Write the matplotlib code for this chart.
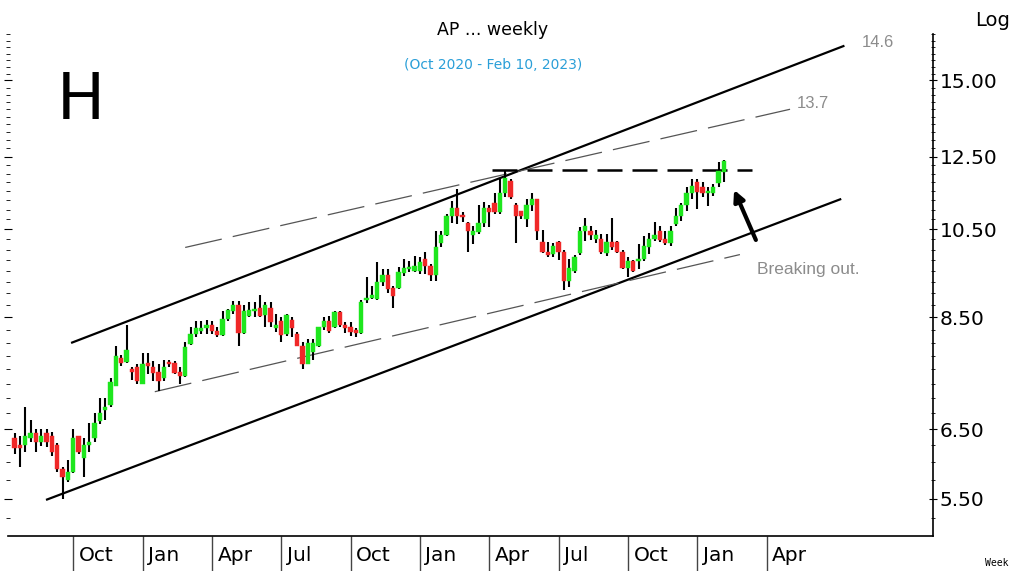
import matplotlib
matplotlib.use("Agg")
import matplotlib.pyplot as plt
import matplotlib.transforms as mtransforms
from matplotlib.ticker import FixedLocator, MultipleLocator, NullFormatter
import numpy as np
import pandas as pd

# weekly bars (dated on the Monday of each week), Jul 2020 .. Feb 2023
first_week = "2020-07-20"
opens = [6.36, 6.25, 6.25, 6.36, 6.44, 6.30, 6.44, 6.40, 6.25, 5.90,
         5.75, 5.86, 6.40, 6.06, 6.25, 6.36, 6.63, 6.81, 6.89, 7.20,
         7.70, 7.64, 7.50, 7.55, 7.25, 7.61, 7.55, 7.46, 7.34, 7.64,
         7.61, 7.46, 7.39, 7.98, 8.16, 8.23, 8.29, 8.35, 8.23, 8.14,
         8.46, 8.62, 8.76, 8.19, 8.52, 8.62, 8.70, 8.54, 8.70, 8.29,
         8.42, 8.16, 8.44, 8.16, 7.93, 7.59, 7.83, 7.94, 8.31, 8.42,
         8.31, 8.60, 8.35, 8.31, 8.25, 8.19, 8.85, 8.91, 8.89, 9.24,
         9.40, 9.11, 9.11, 9.45, 9.54, 9.49, 9.49, 9.77, 9.61, 9.40,
         10.15, 10.35, 10.85, 11.06, 10.85, 10.65, 10.35, 10.43, 10.65, 11.06,
         11.17, 10.93, 11.46, 11.78, 11.14, 10.96, 10.75, 11.14, 11.28, 10.18,
         9.95, 9.89, 10.18, 9.95, 9.27, 9.49, 9.91, 10.45, 10.45, 10.25,
         10.25, 9.91, 10.18, 10.18, 9.95, 9.56, 9.72, 9.72, 9.77, 10.05,
         10.25, 10.45, 10.25, 10.15, 10.63, 10.85, 11.14, 11.46, 11.75, 11.61,
         11.44, 11.44, 11.72, 12.03]
closes = [6.21, 6.21, 6.40, 6.44, 6.30, 6.40, 6.30, 6.15, 5.90, 5.79,
          5.86, 6.37, 6.15, 6.25, 6.30, 6.60, 6.76, 6.86, 7.27, 7.75,
          7.61, 7.85, 7.46, 7.29, 7.59, 7.57, 7.44, 7.29, 7.55, 7.59,
          7.44, 7.39, 7.91, 8.16, 8.29, 8.29, 8.35, 8.23, 8.14, 8.46,
          8.64, 8.76, 8.19, 8.62, 8.66, 8.66, 8.52, 8.76, 8.40, 8.35,
          8.14, 8.54, 8.29, 7.93, 7.59, 8.00, 8.00, 8.31, 8.42, 8.23,
          8.60, 8.35, 8.29, 8.21, 8.19, 8.81, 8.91, 8.96, 9.24, 9.40,
          9.09, 8.94, 9.47, 9.56, 9.56, 9.61, 9.70, 9.61, 9.40, 10.05,
          10.35, 10.85, 11.06, 10.85, 10.80, 10.45, 10.45, 10.65, 11.06, 10.93,
          10.93, 11.46, 11.87, 11.33, 10.83, 10.83, 11.14, 11.28, 10.45, 9.95,
          9.86, 10.08, 9.95, 9.27, 9.56, 9.82, 10.45, 10.58, 10.35, 10.35,
          9.95, 10.18, 10.05, 9.95, 9.56, 9.72, 9.49, 9.75, 10.08, 10.25,
          10.35, 10.23, 10.15, 10.45, 10.85, 11.14, 11.46, 11.64, 11.49, 11.44,
          11.44, 11.61, 12.06, 12.36]
highs = [6.44, 6.40, 6.86, 6.65, 6.50, 6.50, 6.50, 6.46, 6.28, 5.93,
         6.04, 6.50, 6.40, 6.36, 6.60, 6.76, 7.01, 7.01, 7.34, 7.93,
         7.77, 8.35, 7.54, 7.59, 7.81, 7.81, 7.66, 7.59, 7.68, 7.68,
         7.66, 7.55, 8.02, 8.31, 8.42, 8.42, 8.44, 8.42, 8.31, 8.62,
         8.68, 8.83, 8.83, 8.76, 8.81, 8.81, 8.96, 8.81, 8.81, 8.56,
         8.50, 8.56, 8.50, 8.21, 8.02, 8.06, 8.06, 8.31, 8.50, 8.52,
         8.62, 8.62, 8.40, 8.40, 8.29, 8.87, 9.36, 9.16, 9.70, 9.54,
         9.54, 9.16, 9.59, 9.77, 9.72, 9.84, 9.82, 9.95, 9.66, 10.45,
         10.45, 10.88, 11.23, 11.55, 10.93, 10.68, 10.58, 11.14, 11.20, 11.14,
         11.46, 11.87, 12.06, 11.84, 11.17, 10.98, 11.28, 11.44, 11.28, 10.48,
         10.18, 10.15, 10.20, 10.00, 9.77, 9.86, 10.55, 10.78, 10.58, 10.48,
         10.38, 10.38, 10.78, 10.20, 10.00, 9.82, 9.75, 10.13, 10.33, 10.40,
         10.68, 10.58, 10.45, 10.58, 11.06, 11.17, 11.61, 11.84, 11.84, 11.75,
         11.61, 11.70, 12.33, 12.39]
lows = [6.13, 5.94, 6.15, 6.30, 6.15, 6.24, 6.22, 6.10, 5.86, 5.50,
        5.73, 5.85, 6.13, 5.79, 6.16, 6.30, 6.58, 6.65, 6.86, 7.20,
        7.57, 7.61, 7.32, 7.24, 7.24, 7.41, 7.29, 7.12, 7.29, 7.54,
        7.41, 7.24, 7.37, 7.96, 8.10, 8.16, 8.16, 8.16, 8.10, 8.12,
        8.42, 8.56, 7.93, 8.16, 8.50, 8.50, 8.50, 8.31, 8.31, 8.21,
        8.02, 8.12, 8.10, 7.93, 7.50, 7.59, 7.68, 7.91, 8.25, 8.19,
        8.29, 8.31, 8.19, 8.12, 8.10, 8.16, 8.79, 8.89, 8.87, 9.16,
        9.02, 8.70, 9.09, 9.38, 9.47, 9.47, 9.42, 9.42, 9.27, 9.27,
        10.05, 10.33, 10.65, 10.63, 10.68, 9.95, 10.13, 10.38, 10.55, 10.55,
        10.90, 10.90, 11.33, 11.28, 10.15, 10.75, 10.55, 10.96, 10.23, 9.91,
        9.82, 9.82, 9.75, 9.07, 9.14, 9.45, 9.86, 10.20, 10.23, 10.15,
        9.89, 9.84, 10.00, 9.91, 9.54, 9.36, 9.47, 9.54, 9.72, 9.89,
        10.20, 10.18, 10.10, 10.08, 10.58, 10.70, 10.98, 11.28, 11.01, 11.33,
        11.09, 11.36, 11.61, 11.75]

# trend lines: (bar index, price) end points
upper_ch_x, upper_ch_p = [10.8, 155.4], [8.00, 16.29]
lower_ch_x, lower_ch_p = [6.1, 154.8], [5.49, 11.28]
upper_thin_x, upper_thin_p = [32.0, 145.4], [10.05, 14.00]
lower_thin_x, lower_thin_p = [26.3, 136.0], [7.11, 9.88]
resist_x, resist_p = [89.5, 138.3], [12.10, 12.10]

price_ticks = [5.5, 6.5, 8.5, 10.5, 12.5, 15.0]
quarter_months = [1, 4, 7, 10]
last_tick_bar = 150

o = np.array(opens)
c = np.array(closes)
h = np.array(highs)
l = np.array(lows)
n = len(o)
x = np.arange(n)

fig = plt.figure(figsize=(10.10, 5.71), dpi=100)
ax = fig.add_axes([8 / 1010, 35 / 571, 925 / 1010, 502 / 571])
ax.set_yscale("log")

up = c >= o
body_lo = np.minimum(o, c)
body_h = np.maximum(np.abs(c - o), body_lo * 0.005)
cols = np.where(up, "#1ee61e", "#f02828")

ax.vlines(x, l, h, color="black", lw=1.5, zorder=2)
ax.bar(x, body_h, bottom=body_lo, width=0.8, color=cols, edgecolor=cols, lw=0.3, zorder=3)

ax.plot(upper_ch_x, upper_ch_p, color="black", lw=1.6, zorder=1)
ax.plot(lower_ch_x, lower_ch_p, color="black", lw=1.6, zorder=1)
ax.plot(upper_thin_x, upper_thin_p, color="#555555", lw=0.9, ls=(0, (30, 9)), zorder=1)
ax.plot(lower_thin_x, lower_thin_p, color="#555555", lw=0.9, ls=(0, (30, 9)), zorder=1)
ax.plot(resist_x, resist_p, color="black", lw=1.8, ls=(0, (10, 4)), zorder=1)

ax.annotate("", xy=(134.7, 11.61), xytext=(139.2, 10.17),
            arrowprops=dict(arrowstyle="-|>", lw=3, color="black", mutation_scale=16))

grey = "#8c8c8c"
ax.text(158.9, 16.45, "14.6", color=grey, fontsize=12, family="Liberation Sans", va="center")
ax.text(146.7, 14.20, "13.7", color=grey, fontsize=12, family="Liberation Sans", va="center")
ax.text(139.2, 9.54, "Breaking out.", color=grey, fontsize=12.5, family="Liberation Sans", va="center")

ax.set_xlim(-1.22, 172.2)
ax.set_ylim(5.03, 16.77)

# x ticks at first bar of each quarter month (extended a little past the data)
all_weeks = pd.date_range(first_week, periods=180, freq="W-MON")
tick_pos, tick_lab = [], []
for i in range(1, len(all_weeks)):
    d = all_weeks[i]
    if d.month != all_weeks[i - 1].month and d.month in quarter_months and i < last_tick_bar:
        tick_pos.append(i)
        tick_lab.append(d.strftime("%b"))
ax.set_xticks(tick_pos)
ax.set_xticklabels(tick_lab, fontsize=14.5)
ax.tick_params(axis="x", length=25, width=1, color="#444444", direction="out", pad=-18)
offset = mtransforms.ScaledTranslation(4 / 72, 0, fig.dpi_scale_trans)
for lbl in ax.get_xticklabels():
    lbl.set_horizontalalignment("left")
    lbl.set_transform(lbl.get_transform() + offset)

ax.yaxis.set_major_locator(FixedLocator(price_ticks))
ax.yaxis.set_minor_locator(MultipleLocator(0.25))
ax.yaxis.set_minor_formatter(NullFormatter())
ax.set_yticklabels([f"{v:.2f}" for v in price_ticks], fontsize=14.5)
ax.tick_params(axis="y", which="both", left=True, right=True, labelleft=False, labelright=True,
               direction="inout", color="black")
ax.tick_params(axis="y", which="major", length=6, pad=2)
ax.tick_params(axis="y", which="minor", length=3)

ax.spines["top"].set_visible(False)
ax.spines["left"].set_visible(False)
ax.spines["right"].set_linewidth(1.2)
ax.spines["bottom"].set_linewidth(1.2)

fig.text(493 / 1010, 1 - 30 / 571, "AP ... weekly", ha="center", va="center", fontsize=12.5)
fig.text(493 / 1010, 1 - 65 / 571, "(Oct 2020 - Feb 10, 2023)", ha="center", va="center",
         fontsize=10, color="#2a9fd8")
fig.text(57 / 1010, 1 - 101 / 571, "H", ha="left", va="center", fontsize=46)
fig.text(975 / 1010, 1 - 20 / 571, "Log", ha="left", va="center", fontsize=14)
fig.text(985 / 1010, 1 - 563 / 571, "Week", ha="left", va="center", fontsize=7, family="DejaVu Sans Mono")

fig.savefig("out.png", dpi=100)
